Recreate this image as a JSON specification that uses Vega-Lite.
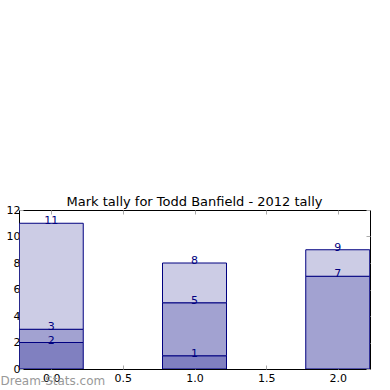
{
  "$schema": "https://vega.github.io/schema/vega-lite/v6.json",
  "autosize": "none",
  "width": 351,
  "height": 159,
  "padding": {"left": 19, "top": 210, "right": 20, "bottom": 21},
  "background": "white",
  "title": {"text": "Mark tally for Todd Banfield - 2012 tally", "font": "DejaVu Sans", "fontSize": 13, "fontWeight": "normal", "color": "black", "offset": -5},
  "config": {
    "view": {"stroke": "black", "strokeWidth": 1},
    "axis": {"grid": false, "domain": false, "labelFont": "DejaVu Sans", "labelFontSize": 11, "labelColor": "black", "tickColor": "#aaaaaa", "tickSize": -4, "labelPadding": 7}
  },
  "data": {"values": [
    {"x": 0, "layer": "a", "start": 0, "end": 2},
    {"x": 0, "layer": "b", "start": 2, "end": 3},
    {"x": 0, "layer": "c", "start": 3, "end": 11},
    {"x": 1, "layer": "a", "start": 0, "end": 1},
    {"x": 1, "layer": "b", "start": 1, "end": 5},
    {"x": 1, "layer": "c", "start": 5, "end": 8},
    {"x": 2, "layer": "b", "start": 0, "end": 7},
    {"x": 2, "layer": "c", "start": 7, "end": 9}
  ]},
  "layer": [
    {
      "mark": {"type": "bar", "width": 64, "stroke": "#000080", "strokeWidth": 1, "clip": true},
      "encoding": {
        "x": {"field": "x", "type": "quantitative", "scale": {"domain": [-0.225, 2.225], "nice": false, "zero": false, "padding": 0},
              "axis": {"values": [0, 0.5, 1, 1.5, 2], "format": ".1f", "title": "Dream-Stats.com", "titleFont": "DejaVu Sans", "titleFontSize": 12, "titleFontWeight": "normal", "titleColor": "#999999", "titleAnchor": "start", "titleAlign": "left", "titleX": -19, "titleY": 11, "titleBaseline": "middle"}},
        "y": {"field": "end", "type": "quantitative", "scale": {"domain": [0, 12], "nice": false},
              "axis": {"values": [0, 2, 4, 6, 8, 10, 12], "title": null, "labelPadding": 3}},
        "y2": {"field": "start"},
        "color": {"field": "layer", "type": "nominal", "scale": {"domain": ["a", "b", "c"], "range": ["#8080c0", "#a2a2d1", "#ccccE5"]}, "legend": null},
        "opacity": {"value": 1}
      }
    },
    {
      "mark": {"type": "text", "font": "DejaVu Sans", "fontSize": 11, "color": "#000080", "baseline": "alphabetic", "dy": 1},
      "encoding": {
        "x": {"field": "x", "type": "quantitative", "axis": {"orient": "top", "values": [0, 0.5, 1, 1.5, 2], "labels": false, "title": null}},
        "y": {"field": "end", "type": "quantitative", "axis": {"orient": "right", "values": [0, 2, 4, 6, 8, 10, 12], "labels": false, "title": null}},
        "text": {"field": "end", "type": "quantitative"}
      }
    }
  ],
  "resolve": {"axis": {"x": "independent", "y": "independent"}}
}
